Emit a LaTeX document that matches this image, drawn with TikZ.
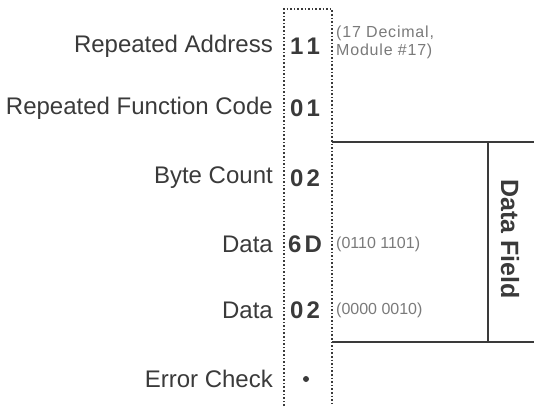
\documentclass[tikz,border=0pt]{standalone}
\usepackage{fontspec}
\setmainfont{Liberation Sans}
\usepackage{tikz}

\definecolor{inkgray}{HTML}{3A3A3A}
\definecolor{notegray}{HTML}{7A7A7A}

\newcommand{\gapdigits}[2]{#1\hspace{3pt}#2}

\tikzset{
    fieldname/.style={anchor=east, inner sep=0pt, text=inkgray, font=\fontsize{24}{27}\selectfont},
    fieldvalue/.style={inner sep=0pt, text=inkgray, font=\fontsize{24}{27}\selectfont\bfseries},
    fieldnote/.style={anchor=west, inner sep=0pt, align=left, text=notegray, font=\fontsize{16}{18}\selectfont},
    columnline/.style={dotted, line width=1.6pt, inkgray},
    bracketline/.style={line width=1.8pt, inkgray}
}

\begin{document}
\begin{tikzpicture}[x=1pt, y=-1pt]
            \useasboundingbox (0,0) rectangle (534,406);

            % draw dotted message column
            \coordinate (colbl) at (284,406);
            \coordinate (coltl) at (284,9);
            \coordinate (coltr) at (332,9);
            \coordinate (colbr) at (332,406);
            \draw[columnline] (colbl) -- (coltl) -- (coltr) -- (colbr);

            % field names
            \node[fieldname] (addr) at (273,46) {Repeated Address};
            \node[fieldname] (func) at (273,108) {Repeated Function Code};
            \node[fieldname] (count) at (273,178) {Byte Count};
            \node[fieldname] (dataa) at (273,244) {Data};
            \node[fieldname] (datab) at (273,310) {Data};
            \node[fieldname] (check) at (273,379) {Error Check};

            % field values
            \node[fieldvalue] (addrval) at (305,46) {\gapdigits{1}{1}};
            \node[fieldvalue] (funcval) at (305,108) {\gapdigits{0}{1}};
            \node[fieldvalue] (countval) at (305,178) {\gapdigits{0}{2}};
            \node[fieldvalue] (dataaval) at (305,244) {\gapdigits{6}{D}};
            \node[fieldvalue] (databval) at (305,310) {\gapdigits{0}{2}};
            \fill[inkgray] (306,379) circle (3);

            % notes
            \node[fieldnote] (addrnote) at (336,42) {\addfontfeatures{LetterSpace=5}(17 Decimal,\\\addfontfeatures{LetterSpace=5}Module \#17)};
            \node[fieldnote] (dataanote) at (336,244) {(0110 1101)};
            \node[fieldnote] (databnote) at (336,310) {(0000 0010)};

            % draw data field bracket
            \coordinate (fieldtop) at (332,142);
            \coordinate (fieldtopend) at (534,142);
            \coordinate (fieldbot) at (332,342);
            \coordinate (fieldbotend) at (534,342);
            \coordinate (fieldsplittop) at (488,142);
            \coordinate (fieldsplitbot) at (488,342);
            \draw[bracketline] (fieldtop) -- (fieldtopend);
            \draw[bracketline] (fieldbot) -- (fieldbotend);
            \draw[bracketline] (fieldsplittop) -- (fieldsplitbot);
            \node[fieldvalue, rotate=-90, font=\fontsize{25}{28}\selectfont\bfseries] (fieldlabel) at (510,239) {Data Field};
        \end{tikzpicture}
\end{document}
